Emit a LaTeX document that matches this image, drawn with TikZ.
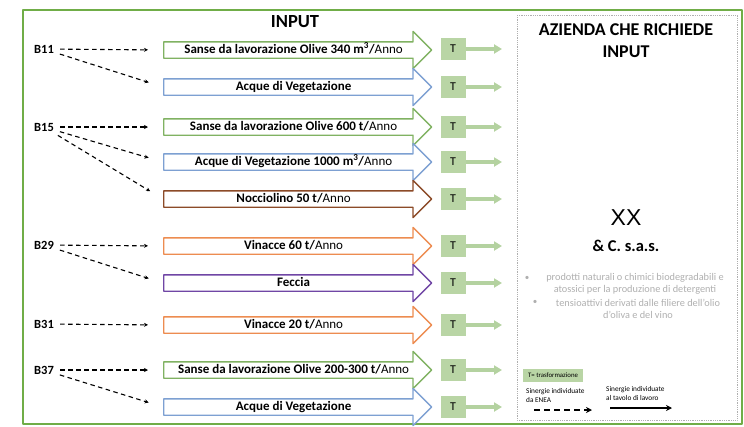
\documentclass[tikz,border=0pt]{standalone}
\usepackage{fontspec}
\setmainfont{Carlito}
\newfontfamily\xxfont{Liberation Sans}
\usetikzlibrary{arrows.meta,shapes.arrows,positioning}
\definecolor{frame}{RGB}{112,173,71}
\definecolor{cgreen}{RGB}{128,178,98}
\definecolor{cblue}{RGB}{125,160,210}
\definecolor{cbrown}{RGB}{140,75,40}
\definecolor{corange}{RGB}{237,140,80}
\definecolor{cpurple}{RGB}{112,70,165}
\definecolor{tgreen}{RGB}{185,213,165}
\definecolor{tline}{RGB}{180,210,160}
\definecolor{grey}{RGB}{175,175,175}
\begin{document}
\begin{tikzpicture}[x=1pt,y=-1pt,line join=round,
  input/.style={single arrow,draw=#1,fill=white,line width=1.3pt,minimum height=268pt,
    single arrow head extend=10.5pt,text height=9pt,text depth=3pt,inner ysep=1.5pt,
    anchor=tail,font=\fontsize{13}{15}\selectfont},
  blabel/.style={font=\bfseries\fontsize{12.5}{14}\selectfont,inner sep=2pt},
  tbox/.style={fill=tgreen,minimum width=25pt,minimum height=22pt,inner sep=0pt,
    font=\fontsize{12}{14}\selectfont},
  tout/.style={draw=tline,line width=3.2pt,-{Triangle[width=9pt,length=8pt]}},
  enea/.style={draw=black,line width=1.1pt,dash pattern=on 4.5pt off 3.5pt,
    -{Stealth[width=4pt,length=4pt]},shorten <=4pt,shorten >=15pt},
  tavolo/.style={draw=black,line width=1.3pt,-{Stealth[width=6pt,length=6pt]}}]
\useasboundingbox (0,0) rectangle (744,426);
\draw[frame,line width=2pt] (23,10) rectangle (742,424);
\draw[grey,densely dotted,line width=0.8pt] (517,15) rectangle (737,420);

\node[font=\bfseries\fontsize{18.5}{20}\selectfont] (title) at (295,22) {INPUT};

% flussi in ingresso
\node[input=cgreen] (a1) at (163,50) {\textbf{Sanse da lavorazione Olive 340 m\textsuperscript{3}/}Anno};
\node[input=cblue] (a2) at (163,87) {\textbf{Acque di Vegetazione}};
\node[input=cgreen] (a3) at (163,127) {\textbf{Sanse da lavorazione Olive 600 t/}Anno};
\node[input=cblue] (a4) at (163,162) {\textbf{Acque di Vegetazione 1000 m\textsuperscript{3}/}Anno};
\node[input=cbrown] (a5) at (163,199) {\textbf{Nocciolino 50 t/}Anno};
\node[input=corange] (a6) at (163,246) {\textbf{Vinacce 60 t/}Anno};
\node[input=cpurple] (a7) at (163,283) {\textbf{Feccia}};
\node[input=corange] (a8) at (163,325) {\textbf{Vinacce 20 t/}Anno};
\node[input=cgreen] (a9) at (163,370) {\textbf{Sanse da lavorazione Olive 200-300 t/}Anno};
\node[input=cblue] (a10) at (163,407) {\textbf{Acque di Vegetazione}};

% trasformazioni
\foreach \i/\y in {1/49,2/87,3/127,4/162,5/199,6/246,7/283,8/325,9/370,10/407}{
  \node[tbox] (t\i) at (453,\y) {T};
  \coordinate (o\i) at (502,\y);
  \draw[tout] (t\i) -- (o\i);
}

% sinergie
\node[blabel] (b11) at (44,49) {B11};
\node[blabel] (b15) at (44,127) {B15};
\node[blabel] (b29) at (44,245) {B29};
\node[blabel] (b31) at (44,324) {B31};
\node[blabel] (b37) at (44,370) {B37};
\draw[enea] (b11) -- (a1.tail);
\draw[enea] (b11) -- (a2.tail);
\draw[enea] (b15) -- (a3.tail);
\draw[enea] (b15) -- (a4.tail);
\draw[enea] (b15) -- (a5.tail);
\draw[enea] (b29) -- (a6.tail);
\draw[enea] (b29) -- (a7.tail);
\draw[enea] (b31) -- (a8.tail);
\draw[enea] (b37) -- (a9.tail);
\draw[enea] (b37) -- (a10.tail);

% azienda
\node[font=\bfseries\fontsize{18}{22}\selectfont,align=center] (az) at (626,41) {AZIENDA CHE RICHIEDE\\INPUT};
\node[font=\xxfont\fontsize{23}{26}\selectfont] (xx) at (626,218) {XX};
\node[font=\bfseries\fontsize{16.5}{18}\selectfont] (sas) at (626,246) {\& C. s.a.s.};
\node[grey,font=\fontsize{10.3}{12.3}\selectfont,align=center] (p1) at (635,284) {prodotti naturali o chimici biodegradabili e\\atossici per la produzione di detergenti};
\node[grey,font=\fontsize{10.3}{12.3}\selectfont,align=center] (p2) at (638,309) {tensioattivi derivati dalle filiere dell'olio\\d'oliva e del vino};
\node[grey,font=\fontsize{9}{12}\selectfont] (d1) at (527,278) {\textbullet};
\node[grey,font=\fontsize{9}{12}\selectfont] (d2) at (535,302) {\textbullet};

% legenda
\node[fill=tgreen,minimum width=60pt,minimum height=13pt,inner sep=0pt,
  font=\fontsize{6.8}{8}\selectfont] (leg) at (553,375) {T= trasformazione};
\node[font=\fontsize{7.3}{9}\selectfont,align=left,anchor=north west,inner sep=0pt] (le) at (526,388) {Sinergie individuate\\da ENEA};
\node[font=\fontsize{7.3}{9}\selectfont,align=left,anchor=north west,inner sep=0pt] (lt) at (606,386) {Sinergie individuate\\al tavolo di lavoro};
\coordinate (e1) at (530,410);
\coordinate (e2) at (607,410);
\coordinate (s1) at (610,408);
\coordinate (s2) at (672,408);
\draw[enea,line width=1.6pt,dash pattern=on 6pt off 4pt,-{Stealth[width=6pt,length=6pt]}] (e1) -- (e2);
\draw[tavolo] (s1) -- (s2);
\end{tikzpicture}
\end{document}
